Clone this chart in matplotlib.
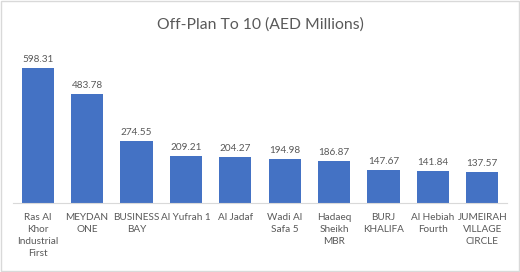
import matplotlib.pyplot as plt
from matplotlib.patches import Rectangle

areas = ['Ras Al\nKhor\nIndustrial\nFirst', 'MEYDAN\nONE', 'BUSINESS\nBAY', 'Al Yufrah 1',
         'Al Jadaf', 'Wadi Al\nSafa 5', 'Hadaeq\nSheikh\nMBR', 'BURJ\nKHALIFA',
         'Al Hebiah\nFourth', 'JUMEIRAH\nVILLAGE\nCIRCLE']
values = [598.31, 483.78, 274.55, 209.21, 204.27, 194.98, 186.87, 147.67, 141.84, 137.57]

plt.rcParams['font.family'] = ['Lato', 'DejaVu Sans']
text_col = '#595959'

fig = plt.figure(figsize=(5.2, 2.72), dpi=100)
fig.patches.append(Rectangle((0.002, 0.004), 0.996, 0.992, transform=fig.transFigure,
                             fill=False, edgecolor='#d9d9d9', linewidth=1))
ax = fig.add_axes([0.025, 0.2537, 0.95, 0.581])

x = range(len(values))
bars = ax.bar(x, values, width=0.65, color='#4472C4')
for xi, v in zip(x, values):
    ax.text(xi, v + 18, f'{v:.2f}', ha='center', va='bottom', fontsize=7.2, color=text_col)

ax.set_xlim(-0.5, len(values) - 0.5)
ax.set_ylim(0, 700)
ax.set_xticks(list(x))
ax.set_xticklabels(areas, fontsize=7.2, color=text_col, linespacing=1.45)
ax.tick_params(axis='x', length=0, pad=7)
ax.set_yticks([])
for s in ['top', 'right', 'left']:
    ax.spines[s].set_visible(False)
ax.spines['bottom'].set_color('#d9d9d9')

fig.text(0.5, 0.91, 'Off-Plan To 10 (AED Millions)', ha='center', va='center',
         fontsize=11.3, color=text_col)

fig.savefig('out.png', dpi=100)
